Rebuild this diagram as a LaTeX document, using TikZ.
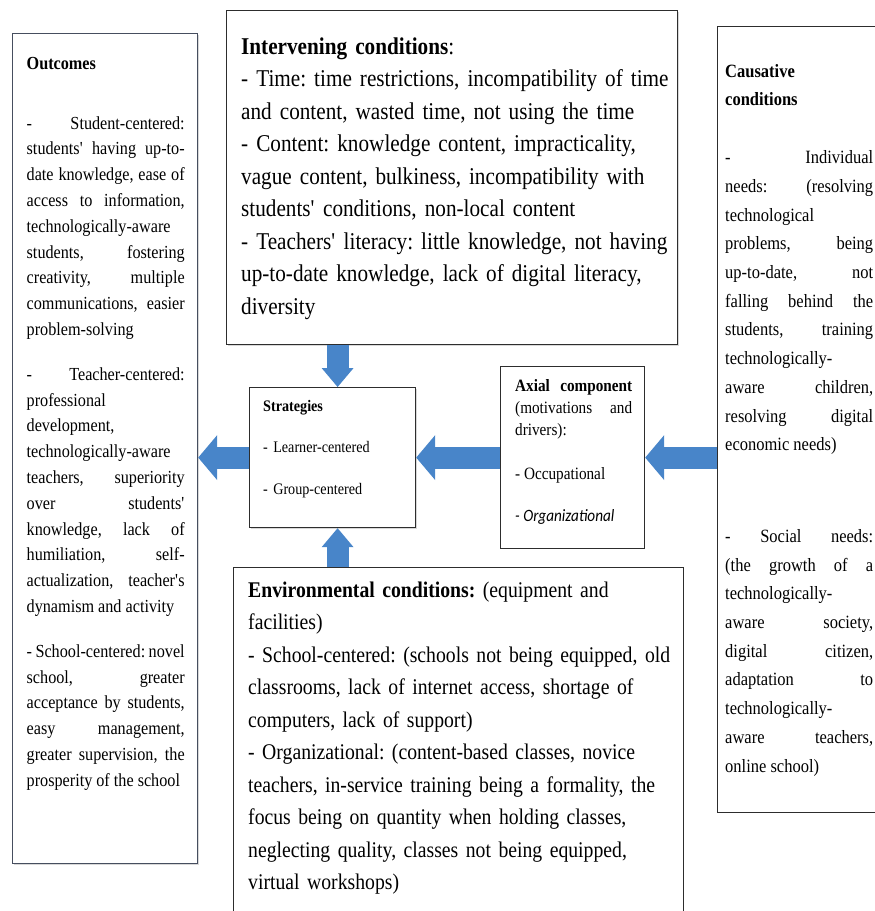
\documentclass[tikz,border=0pt]{standalone}
\usepackage{fontspec}
\setmainfont{Liberation Serif}[FakeStretch=0.88]
\newfontfamily\calibrifont{Carlito}[FakeStretch=0.88]
\usetikzlibrary{arrows.meta,shadows}
\definecolor{arrowblue}{RGB}{72,133,201}
\definecolor{boxline}{RGB}{45,45,45}
\hbadness=10000 \hfuzz=20pt
\hyphenpenalty=10000 \exhyphenpenalty=10000
\newcommand{\ap}{\textquotesingle}
\tikzset{
  box/.style={draw=boxline, line width=1.2pt, fill=white, rectangle, inner sep=0pt, anchor=north west},
  shbox/.style={box, drop shadow={shadow xshift=1.5pt, shadow yshift=-1.5pt, fill=black!30}},
  txt/.style={inner sep=0pt, anchor=base west},
  hblock/.style={draw=arrowblue, line width=22pt, -{Triangle[width=45pt,length=19pt,line width=0pt]}},
  vblock/.style={draw=arrowblue, line width=22pt, -{Triangle[width=32pt,length=19pt,line width=0pt]}},
}
\begin{document}
\frenchspacing
\begin{tikzpicture}[x=1pt,y=-1pt]
\useasboundingbox (0,0) rectangle (875,911);
\clip (0,0) rectangle (875,911);

% boxes
\node[shbox, draw={rgb,255:red,70;green,78;blue,95}, minimum width=185pt, minimum height=830pt] (out) at (12,33) {};
\node[shbox, minimum width=451pt, minimum height=334pt] (int) at (226,10) {};
\node[box, minimum width=190pt, minimum height=786pt] (cause) at (717,26) {};
\node[shbox, minimum width=166pt, minimum height=140pt] (strat) at (249,387) {};
\node[box, minimum width=144pt, minimum height=182pt] (ax) at (500,366) {};
\node[box, minimum width=450pt, minimum height=370pt] (env) at (233,567) {};

% texts
\node[txt, text width=158pt, align=justify, font=\fontsize{18.4}{25.8}\selectfont\frenchspacing] (outtxt) at (26.5,69)
{\textbf{Outcomes}\par\vspace{34.2pt}
-\ Student-centered:\linebreak students\ap{} having up-to-\linebreak date knowledge, ease of\linebreak access to information,\linebreak technologically-aware\linebreak students, fostering\linebreak creativity, multiple\linebreak communications, easier\linebreak problem-solving\par\vspace{19pt}
-\ Teacher-centered:\linebreak professional\linebreak development,\linebreak technologically-aware\linebreak teachers, superiority\linebreak over students\ap\linebreak knowledge, lack of\linebreak humiliation, self-\linebreak actualization, teacher\ap{}s\linebreak dynamism and activity\par\vspace{19pt}
- School-centered: novel\linebreak school, greater\linebreak acceptance by students,\linebreak easy management,\linebreak greater supervision, the\linebreak prosperity of the school};

\node[txt, text width=480pt, align=left, font=\fontsize{24.1}{32.5}\selectfont\frenchspacing] (inttxt) at (241,54)
{\textbf{Intervening conditions}:\\
- Time: time restrictions, incompatibility of time\\
and content, wasted time, not using the time\\
- Content: knowledge content, impracticality,\\
vague content, bulkiness, incompatibility with\\
students\ap{} conditions, non-local content\\
- Teachers\ap{} literacy: little knowledge, not having\\
up-to-date knowledge, lack of digital literacy,\\
diversity};

\node[txt, text width=148pt, align=justify, font=\fontsize{18.75}{28.7}\selectfont\frenchspacing] (causetxt) at (725,77)
{\textbf{Causative}\\ \textbf{conditions}\par\vspace{29.3pt}
-\ Individual\linebreak needs: (resolving\linebreak technological\linebreak problems, being\linebreak up-to-date, not\linebreak falling behind the\linebreak students, training\linebreak technologically-\linebreak aware children,\linebreak resolving digital\linebreak economic needs)\par\vspace{63pt}
- Social needs:\linebreak (the growth of a\linebreak technologically-\linebreak aware society,\linebreak digital citizen,\linebreak adaptation to\linebreak technologically-\linebreak aware teachers,\linebreak online school)};

\node[txt, text width=140pt, align=left, font=\fontsize{16.1}{41.5}\selectfont\frenchspacing] (strattxt) at (263,411)
{\textbf{Strategies}\\ - Learner-centered\\ - Group-centered};

\node[txt, text width=117pt, align=justify, font=\fontsize{17.3}{22}\selectfont\frenchspacing] (axtxt) at (515,391)
{\textbf{Axial component}\linebreak (motivations and\linebreak drivers):\par\vspace{22pt}
- Occupational\par\vspace{20pt}
{\calibrifont\itshape - Organizational}};

\node[txt, text width=470pt, align=left, font=\fontsize{22.4}{32.5}\selectfont\frenchspacing] (envtxt) at (248,597)
{\textbf{Environmental conditions:} (equipment and\\
facilities)\\
- School-centered: (schools not being equipped, old\\
classrooms, lack of internet access, shortage of\\
computers, lack of support)\\
- Organizational: (content-based classes, novice\\
teachers, in-service training being a formality, the\\
focus being on quantity when holding classes,\\
neglecting quality, classes not being equipped,\\
virtual workshops)};

% arrows
\draw[hblock] (strat.west) -- (out.east |- strat.west);
\draw[hblock] (ax.west) -- (strat.east |- ax.west);
\draw[hblock] (cause.west |- ax.west) -- (ax.east);
\draw[vblock] ([xshift=5pt]strat.north |- int.south) -- ([xshift=5pt]strat.north);
\draw[vblock] ([xshift=5pt]strat.south |- env.north) -- ([xshift=5pt]strat.south);
\end{tikzpicture}
\end{document}
